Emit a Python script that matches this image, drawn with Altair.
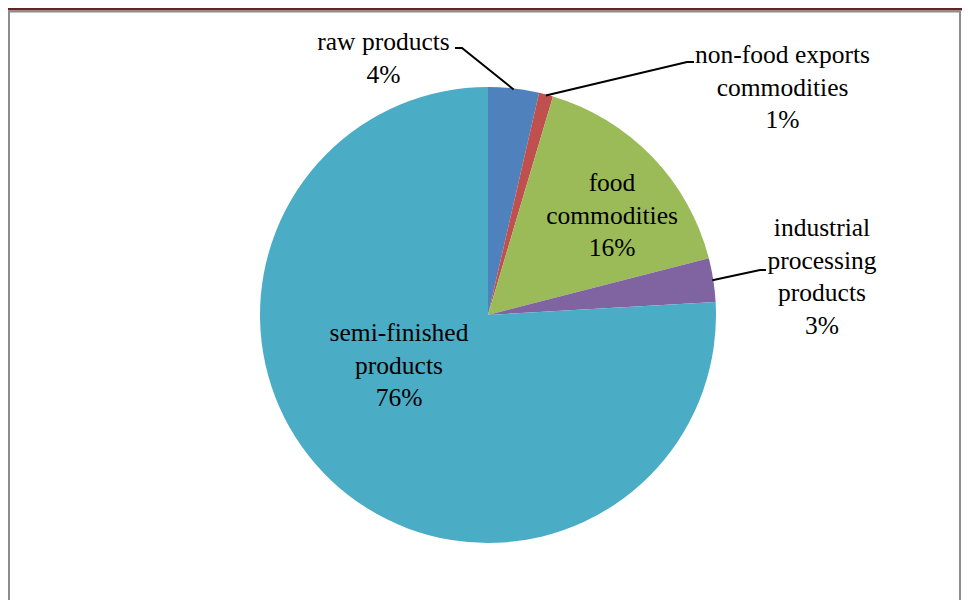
import math
import altair as alt
import pandas as pd

# ---- data ----
categories = ["raw products", "non-food exports commodities", "food commodities",
              "industrial processing products", "semi-finished products"]
values = [3.6, 1.0, 16.4, 3.1, 75.9]
label_lines = [["raw products"], ["non-food exports", "commodities"], ["food", "commodities"],
               ["industrial", "processing", "products"], ["semi-finished", "products"]]
colors = ["#4F81BD", "#C0504D", "#9BBB59", "#8064A2", "#4BACC6"]

# ---- layout ----
W, H = 954, 592
CX, CY, R = 480, 307, 228
FONT = "'Liberation Serif', 'Times New Roman', 'DejaVu Serif', serif"
FS = 25.5
STEP = 32.5
# first-line centre of each label (chart coordinates)
label_anchor = {0: (375.5, 34), 1: (774.5, 47), 2: (604, 175), 3: (814, 220), 4: (391, 325)}
# leader line knee / end (chart coordinates) for outside labels
leader_pts = {0: [(454, 40), (447, 40)], 1: [(679, 54), (686, 54)], 3: [(752, 262), (758, 262)]}

df = pd.DataFrame({"cat": categories, "value": values, "idx": list(range(len(values)))})

pie = alt.Chart(df).mark_arc(outerRadius=R).encode(
    theta=alt.Theta("value:Q", stack=True),
    color=alt.Color("cat:N", scale=alt.Scale(domain=categories, range=colors), legend=None),
    order=alt.Order("idx:Q"),
    x=alt.value(CX), y=alt.value(CY),
)

# label text rows
rows = []
total = sum(values)
for i, lines in enumerate(label_lines):
    ax, ay = label_anchor[i]
    texts = lines + [f"{round(values[i] / total * 100)}%"]
    for j, t in enumerate(texts):
        rows.append({"t": t, "x": ax, "y": ay + j * STEP})
labels = alt.Chart(pd.DataFrame(rows)).mark_text(
    font=FONT, fontSize=FS, color="#000000", align="center", baseline="middle"
).encode(x=alt.X("x:Q", scale=None), y=alt.Y("y:Q", scale=None), text="t:N")

# leader lines: start on the slice edge at its mid angle
lrows = []
cum = 0
for i, v in enumerate(values):
    mid = (cum + v / 2) / total * 2 * math.pi
    cum += v
    if i in leader_pts:
        sx = CX + (R - 1) * math.sin(mid)
        sy = CY - (R - 1) * math.cos(mid)
        pts = [(sx, sy)] + leader_pts[i]
        for k, (px, py) in enumerate(pts):
            lrows.append({"cat": categories[i], "k": k, "x": px, "y": py})
leaders = alt.Chart(pd.DataFrame(lrows)).mark_line(color="#000000", strokeWidth=2).encode(
    x=alt.X("x:Q", scale=None), y=alt.Y("y:Q", scale=None), detail="cat:N", order="k:Q"
)

# frame decoration
topbar = alt.Chart(pd.DataFrame({"a": [0]})).mark_rect(color="#632523").encode(
    x=alt.value(0), x2=alt.value(W), y=alt.value(0), y2=alt.value(2.5))
topline = alt.Chart(pd.DataFrame({"a": [0]})).mark_rule(color="#8c8c8c", strokeWidth=2).encode(
    x=alt.value(0), x2=alt.value(W - 2), y=alt.value(3.5))
leftline = alt.Chart(pd.DataFrame({"a": [0]})).mark_rule(color="#8c8c8c", strokeWidth=2).encode(
    x=alt.value(1), y=alt.value(3), y2=alt.value(H))
rightline = alt.Chart(pd.DataFrame({"a": [0]})).mark_rule(color="#8c8c8c", strokeWidth=2).encode(
    x=alt.value(W - 2), y=alt.value(3), y2=alt.value(H))

chart = alt.layer(topbar, topline, leftline, rightline, pie, leaders, labels).properties(
    width=W, height=H, autosize=alt.AutoSizeParams(type="none"), padding=0
).configure_view(stroke=None)

chart.save("out.html", embed_options={"renderer": "svg", "actions": False})
